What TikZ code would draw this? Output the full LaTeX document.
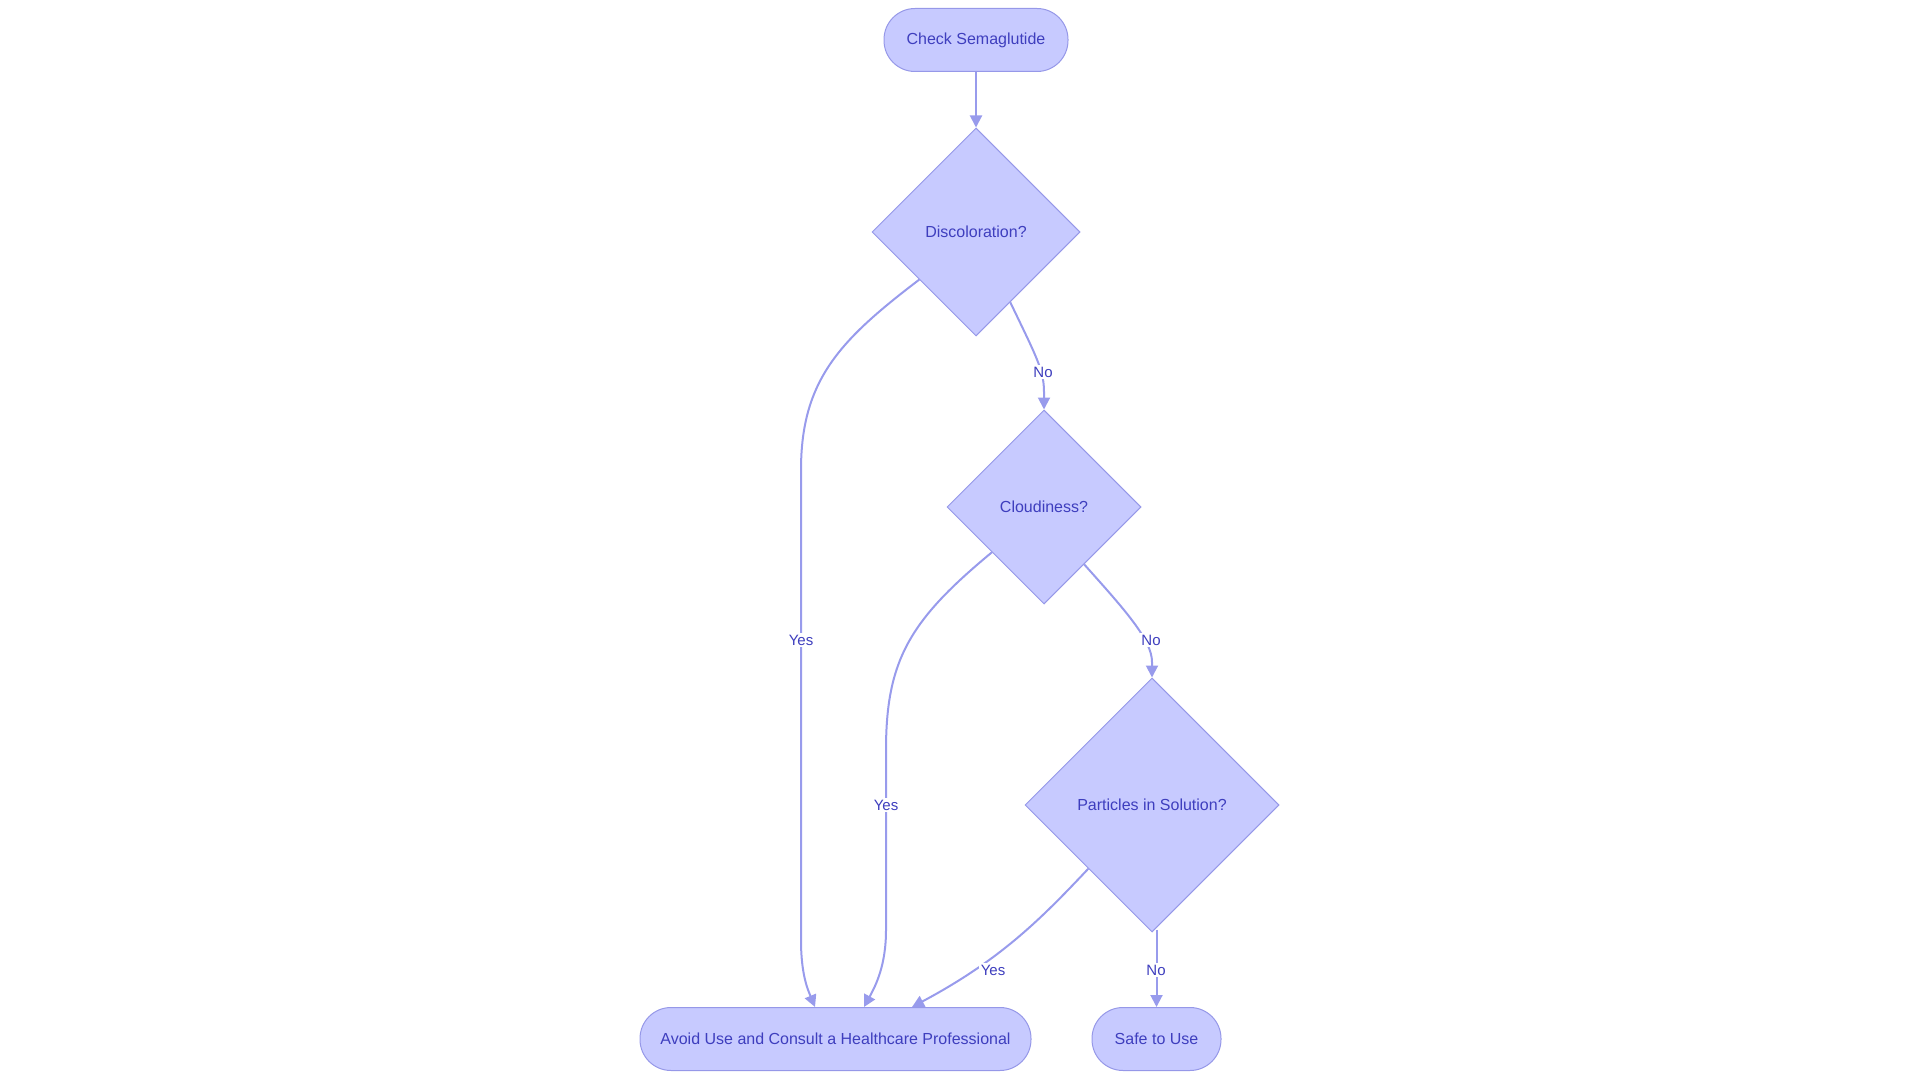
\documentclass[tikz,border=0pt]{standalone}
\usepackage{fontspec}
\setmainfont{Liberation Sans}
\usetikzlibrary{shapes.geometric,arrows.meta,calc}
\definecolor{nodefill}{RGB}{199,202,255}
\definecolor{nodeborder}{RGB}{150,152,232}
\definecolor{edgecol}{RGB}{152,155,236}
\definecolor{txtcol}{RGB}{62,62,190}
\tikzset{
  stadium/.style={draw=nodeborder, line width=1pt, fill=nodefill, rectangle, rounded corners=31pt, minimum height=63pt, inner sep=0pt, text=txtcol, font=\fontsize{16}{18}\selectfont},
  decision/.style={draw=nodeborder, line width=1pt, fill=nodefill, diamond, shape aspect=1, inner sep=0pt, text=txtcol, font=\fontsize{16}{18}\selectfont},
  flow/.style={draw=edgecol, line width=2pt, -{Triangle[length=12pt,width=12pt]}},
  lbl/.style={fill=white, inner sep=1.5pt, text=txtcol, font=\fontsize{15}{17}\selectfont}
}
\begin{document}
\begin{tikzpicture}[x=1pt,y=-1pt]
\useasboundingbox (0,0) rectangle (1920,1083);
\node[stadium, minimum width=184pt] (c) at (976,40) {Check Semaglutide};
\node[decision, minimum width=208pt, minimum height=208pt] (d1) at (976,232) {Discoloration?};
\node[decision, minimum width=194pt, minimum height=194pt] (d2) at (1044,507) {Cloudiness?};
\node[decision, minimum width=254pt, minimum height=254pt] (d3) at (1152,805) {Particles in Solution?};
\node[stadium, minimum width=391pt] (A) at (835.5,1039) {Avoid Use and Consult a Healthcare Professional};
\node[stadium, minimum width=129pt] (S) at (1156.5,1039) {Safe to Use};

\draw[flow] (c.south) -- (d1.north);
% d1 -> d2 No
\draw[flow] (d1.-64) .. controls (1036,356) and (1044,370) .. (1044,392) -- (d2.north);
\node[lbl] (l1) at (1043,372) {No};
% d1 -> A Yes
\draw[flow] (d1.-140) .. controls (840,340) and (801,380) .. (801,470) -- (801,940) .. controls (801,975) and (808,990) .. ($(A.north)+(-20.5,0)$);
\node[lbl] (l2) at (801,640) {Yes};
% d2 -> A Yes
\draw[flow] (d2.-139) .. controls (910,620) and (886,660) .. (886,750) -- (886,930) .. controls (886,965) and (876,985) .. ($(A.north)+(28.5,0)$);
\node[lbl] (l3) at (886,805) {Yes};
% d2 -> d3 No
\draw[flow] (d2.-55) .. controls (1125,610) and (1152,640) .. (1152,662) -- (d3.north);
\node[lbl] (l4) at (1151,640) {No};
% d3 -> A Yes
\draw[flow] (d3.-135) .. controls (1040,920) and (1000,960) .. ($(A.north)+(76.5,0)$);
\node[lbl] (l5) at (993,970) {Yes};
% d3 -> S No
\draw[flow] ([yshift=3pt]S.north |- d3.south) -- (S.north);
\node[lbl] (l6) at (1156,970) {No};
\end{tikzpicture}
\end{document}
